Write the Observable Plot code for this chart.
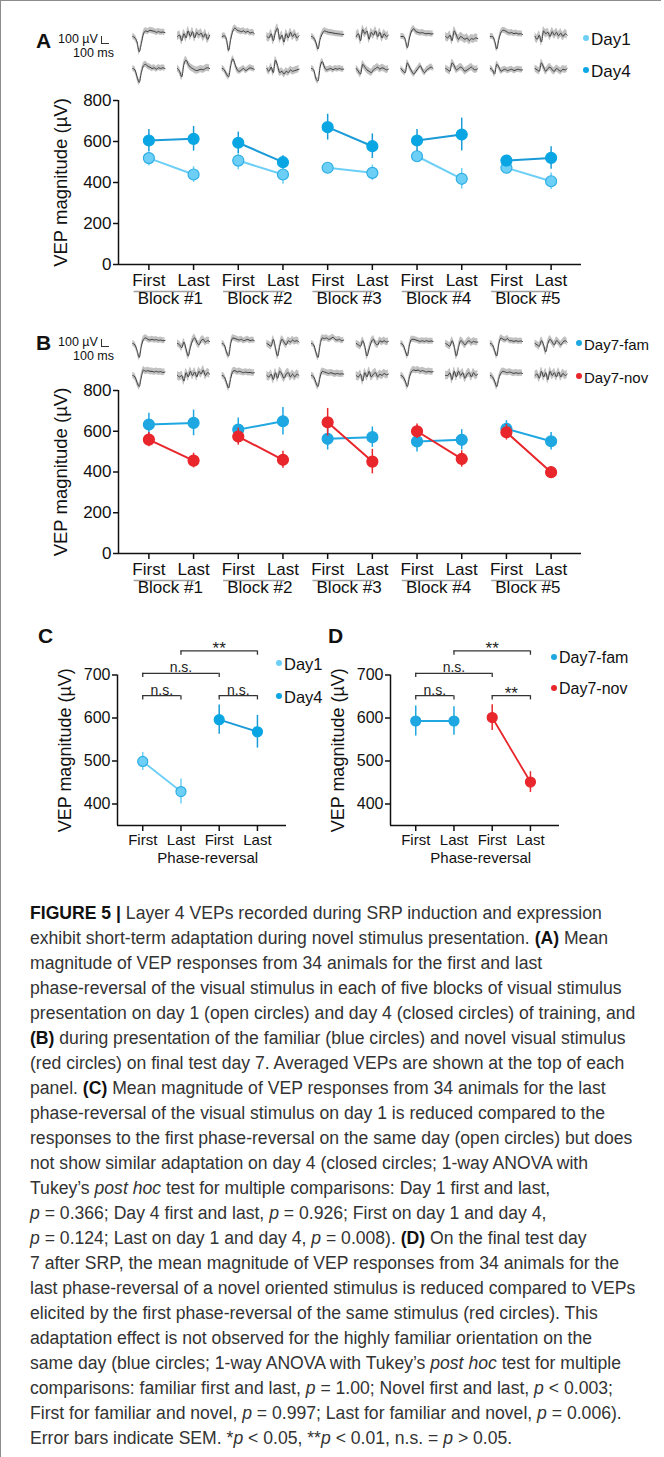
<!DOCTYPE html>
<html><head><meta charset="utf-8">
<script src="https://cdn.jsdelivr.net/npm/d3@7"></script>
<script src="https://cdn.jsdelivr.net/npm/@observablehq/plot@0.6"></script>
<style>
body{margin:0;background:#fff;}
#fig{position:relative;width:664px;height:1457px;font-family:"Liberation Sans",Arial,sans-serif;color:#111;overflow:hidden;background:#fff}
.abs{position:absolute;white-space:nowrap;line-height:1}
.frame{position:absolute;left:13px;top:7px;width:660px;height:1460px;border-top:1.5px solid #8c8c8c;border-left:1.5px solid #8c8c8c}
.cap{position:absolute;left:30px;white-space:nowrap;font-size:17.6px;line-height:25px;color:#333}
.cap b{color:#111}
.dot{position:absolute;border-radius:50%;width:7px;height:7px}
.lbar{position:absolute;width:7px;height:7px;border-left:1.3px solid #333;border-bottom:1.3px solid #333}
svg{position:absolute}
</style></head><body><div id="fig"></div>
<script>
// ---------- DATA ----------
const phases = ["First", "Last"];
const blocks = ["Block #1", "Block #2", "Block #3", "Block #4", "Block #5"];
const yTicksAB = [0, 200, 400, 600, 800];
const yTicksCD = [400, 500, 600, 700];
const cdLabels = ["First", "Last", "First", "Last"];

// Panel A (order: B1 First, B1 Last, B2 First, ...)
const day1Mean = [519, 439, 507, 439, 472, 447, 528, 418, 472, 406];
const day1Sem  = [38, 38, 45, 48, 20, 38, 30, 50, 22, 40];
const day4Mean = [605, 613, 594, 499, 670, 577, 605, 634, 507, 520];
const day4Sem  = [53, 60, 52, 32, 63, 60, 53, 80, 25, 55];
// Panel B
const famMean = [633, 641, 608, 649, 563, 571, 550, 558, 612, 551];
const famSem  = [55, 63, 57, 68, 55, 50, 52, 50, 40, 43];
const novMean = [559, 456, 574, 460, 644, 451, 600, 464, 595, 399];
const novSem  = [35, 36, 42, 42, 68, 60, 36, 40, 38, 25];
// Panel C
const cDay1Mean = [499, 429];
const cDay1Sem  = [21, 29];
const cDay4Mean = [596, 568];
const cDay4Sem  = [34, 38];
// Panel D
const dFamMean = [593, 593];
const dFamSem  = [35, 33];
const dNovMean = [601, 451];
const dNovSem  = [30, 24];
// significance brackets (between x positions a and b, stacked levels)
const cBrackets = [
  {a: 0, b: 1, level: 0, text: "n.s."},
  {a: 2, b: 3, level: 0, text: "n.s."},
  {a: 0, b: 2, level: 1, text: "n.s."},
  {a: 1, b: 3, level: 2, text: "**"}
];
const dBrackets = [
  {a: 0, b: 1, level: 0, text: "n.s."},
  {a: 2, b: 3, level: 0, text: "**"},
  {a: 0, b: 2, level: 1, text: "n.s."},
  {a: 1, b: 3, level: 2, text: "**"}
];

// Averaged VEP traces (µV), 16 samples each, one per phase-reversal column
const waveDay1 = [
  [0,-10,-40,-110,-50,20,40,35,45,40,38,30,35,30,32,28],
  [0,10,-30,20,-10,40,0,35,-10,30,10,25,-5,20,-20,10],
  [0,5,-20,-100,-20,40,60,45,40,35,40,30,38,25,30,20],
  [0,-10,20,-30,30,60,-20,10,-40,20,-10,30,0,20,-10,5],
  [0,-10,-40,-90,-20,20,40,35,30,28,25,22,20,18,15,15],
  [0,20,-30,50,20,40,-20,30,10,40,0,30,-10,20,0,10],
  [0,0,-20,-80,-10,40,55,35,30,25,28,22,20,22,18,20],
  [0,-10,10,-30,40,10,-20,0,-10,-20,-10,-30,-15,-20,-10,-15],
  [0,0,-30,-90,-20,30,45,40,30,25,28,20,25,18,20,15],
  [0,-20,10,-40,40,20,30,0,35,10,30,5,25,0,20,10]
];
const waveDay4 = [
  [0,-10,-60,-100,-30,20,30,15,10,0,5,-5,5,0,5,0],
  [0,-20,-60,30,60,30,10,0,-10,-15,-10,-5,-10,0,5,0],
  [0,-10,-40,-60,20,70,30,-10,-20,-10,0,-15,-5,5,0,-5],
  [0,-20,10,-30,60,20,-30,-20,-40,-20,-30,-10,-20,-15,-10,-5],
  [0,-10,-70,-90,10,50,10,-10,-5,0,-10,0,-5,0,-5,-5],
  [0,-20,-40,30,10,-10,-20,-30,-10,0,10,-5,5,0,-10,-5],
  [0,-20,-30,40,10,-20,-40,-20,0,20,-10,-30,-10,0,10,0],
  [0,-10,-20,40,20,-10,0,10,0,-20,-10,0,10,-5,-10,0],
  [0,-10,-40,30,10,-20,-10,-5,-15,-10,-5,-15,-10,-5,-10,-10],
  [0,-10,-20,40,10,-20,0,10,-10,-20,0,-10,-20,-5,-10,0]
];
const waveFam = [
  [0,-10,-50,-100,-20,30,40,30,25,30,25,28,22,25,20,22],
  [0,-10,-30,10,-40,-90,-30,20,40,10,-10,20,30,10,20,15],
  [0,-10,-60,-90,0,40,35,30,25,30,20,25,30,20,25,20],
  [0,-10,-20,30,-30,-90,-20,30,10,-10,20,10,25,15,20,10],
  [0,-10,-60,-100,-10,40,35,40,30,35,45,30,25,30,20,25],
  [0,-10,-20,20,-20,-90,-40,10,30,0,-10,20,10,20,10,15],
  [0,-10,-50,-90,-10,30,30,25,20,15,20,15,20,15,18,15],
  [0,-10,-20,20,-20,-90,-30,20,10,-10,10,20,5,15,10,10],
  [0,-10,-50,-90,0,40,30,25,35,20,20,15,20,15,18,15],
  [0,-10,-20,20,-10,-60,0,30,10,-10,20,10,-10,10,20,10]
];
const waveNov = [
  [0,-10,-50,-80,-10,40,30,35,30,30,25,30,25,28,22,25],
  [0,-10,0,-40,20,-10,30,0,25,-10,30,10,40,0,20,10],
  [0,-10,-50,-90,-20,30,35,25,30,25,20,25,20,22,18,20],
  [0,-10,10,-30,20,-20,30,10,-20,10,20,-10,10,-10,10,0],
  [0,-10,-50,-80,-10,30,25,20,15,20,15,10,15,10,12,10],
  [0,-10,10,-40,20,-10,30,-10,10,20,-10,10,0,15,5,10],
  [0,-10,-40,-80,-10,30,40,35,40,30,35,30,25,30,25,28],
  [0,0,20,-30,30,-10,30,0,20,-20,10,20,-10,20,0,10],
  [0,-10,-40,-80,-20,20,30,25,20,25,20,15,20,15,18,15],
  [0,10,-20,30,-10,20,-30,30,0,20,-10,25,-10,15,0,10]
];
const waveSemDay1 = [22, 30, 22, 30, 22, 30, 22, 30, 22, 30];
const waveSemDay4 = [22, 26, 22, 26, 22, 26, 22, 26, 22, 26];
const waveSemFam  = [22, 26, 22, 26, 22, 26, 22, 26, 22, 26];
const waveSemNov  = [24, 30, 24, 30, 24, 30, 24, 30, 24, 30];

const captionLines = [
 '<b>FIGURE 5</b> <b>|</b> Layer 4 VEPs recorded during SRP induction and expression',
 'exhibit short-term adaptation during novel stimulus presentation. <b>(A)</b> Mean',
 'magnitude of VEP responses from 34 animals for the first and last',
 'phase-reversal of the visual stimulus in each of five blocks of visual stimulus',
 'presentation on day 1 (open circles) and day 4 (closed circles) of training, and',
 '<b>(B)</b> during presentation of the familiar (blue circles) and novel visual stimulus',
 '(red circles) on final test day 7. Averaged VEPs are shown at the top of each',
 'panel. <b>(C)</b> Mean magnitude of VEP responses from 34 animals for the last',
 'phase-reversal of the visual stimulus on day 1 is reduced compared to the',
 'responses to the first phase-reversal on the same day (open circles) but does',
 'not show similar adaptation on day 4 (closed circles; 1-way ANOVA with',
 'Tukey\u2019s <i>post hoc</i> test for multiple comparisons: Day 1 first and last,',
 '<i>p</i> = 0.366; Day 4 first and last, <i>p</i> = 0.926; First on day 1 and day 4,',
 '<i>p</i> = 0.124; Last on day 1 and day 4, <i>p</i> = 0.008). <b>(D)</b> On the final test day',
 '7 after SRP, the mean magnitude of VEP responses from 34 animals for the',
 'last phase-reversal of a novel oriented stimulus is reduced compared to VEPs',
 'elicited by the first phase-reversal of the same stimulus (red circles). This',
 'adaptation effect is not observed for the highly familiar orientation on the',
 'same day (blue circles; 1-way ANOVA with Tukey\u2019s <i>post hoc</i> test for multiple',
 'comparisons: familiar first and last, <i>p</i> = 1.00; Novel first and last, <i>p</i> &lt; 0.003;',
 'First for familiar and novel, <i>p</i> = 0.997; Last for familiar and novel, <i>p</i> = 0.006).',
 'Error bars indicate SEM. *<i>p</i> &lt; 0.05, **<i>p</i> &lt; 0.01, n.s. = <i>p</i> &gt; 0.05.'
];

// ---------- STYLE ----------
const C_DAY1 = "#6dcff6", C_DAY1_EDGE = "#2eaee4", C_DAY4 = "#0aa6e3";
const C_FAM = "#1ea7e1", C_NOV = "#e8262b";
const FONT = "Liberation Sans, Arial, sans-serif";
const fig = document.getElementById("fig");

function place(el, left, top) { el.style.left = left + "px"; el.style.top = top + "px"; fig.appendChild(el); return el; }
function div(cls, html, style) { const d = document.createElement("div"); d.className = cls; if (html != null) d.innerHTML = html; Object.assign(d.style, style || {}); return d; }
function textAt(html, x, yc, size, extra) {
  const d = div("abs", html, Object.assign({fontSize: size + "px"}, extra || {}));
  d.style.transform = "translateY(-50%)";
  return place(d, x, yc);
}
function legendItem(color, label, x, yc, size) {
  place(div("dot", null, {background: color, width: "6px", height: "6px", transform: "translateY(-50%)"}), x, yc);
  textAt(label, x + 8, yc + 1, size);
}

place(div("frame"), 0, 0);

// ---------- MAIN BLOCK PANELS (A, B) ----------
const xIdx = d3.range(10);
const xDomAB = [-0.68, 9.68];

function blockPanel(top, series) {
  const marks = [
    Plot.axisY({ticks: yTicksAB, tickSize: 5, tickPadding: 2, strokeWidth: 1.5, label: null}),
    Plot.axisX({ticks: xIdx, tickFormat: i => phases[i % 2], tickSize: 6, tickPadding: 3, strokeWidth: 1.5, label: null}),
    Plot.ruleX([xDomAB[0]], {y1: yTicksAB[0], y2: yTicksAB[yTicksAB.length - 1], strokeWidth: 1.5}),
    Plot.ruleY([0], {strokeWidth: 1.5}),
    Plot.ruleY(blocks, {y: () => 0, x1: (d, j) => 2 * j - 0.33, x2: (d, j) => 2 * j + 1.05, dy: 27, stroke: "#a0a0a0", strokeWidth: 1.5}),
    Plot.text(blocks, {x: (d, j) => 2 * j + 0.48, frameAnchor: "bottom", dy: 39, text: d => d}),
    Plot.text(["VEP magnitude (\u00b5V)"], {frameAnchor: "left", textAnchor: "middle", rotate: -90, dx: -57, text: d => d, fontSize: 18.5})
  ];
  for (const s of series) {
    const data = xIdx.map(i => ({i, b: Math.floor(i / 2), m: s.mean[i], e: s.sem[i]}));
    marks.push(
      Plot.ruleX(data, {x: "i", y1: d => d.m - d.e, y2: d => d.m + d.e, stroke: s.line, strokeWidth: 1.5}),
      Plot.line(data, {x: "i", y: "m", z: "b", stroke: s.line, strokeWidth: 2}),
      Plot.dot(data, {x: "i", y: "m", r: 5.5, fill: s.fill, stroke: s.edge, strokeWidth: 1.2})
    );
  }
  const svg = Plot.plot({
    width: 664, height: 230, marginLeft: 118, marginRight: 83, marginTop: 15, marginBottom: 51 + (top === 85 ? 0 : 1),
    x: {domain: xDomAB}, y: {domain: [0, 800]},
    style: {fontFamily: FONT, fontSize: "17px", color: "#111", background: "transparent", overflow: "visible"},
    marks
  });
  svg.style.left = "0px"; svg.style.top = top + "px";
  fig.appendChild(svg);
}

function waveStrip(top, rows, sems) {
  const data = [];
  rows.forEach((row, r) => row.forEach((w, c) => w.forEach((v, k) => {
    data.push({id: r * 10 + c, row: r, x: c + (k / (w.length - 1) - 0.5) * 0.72, v, sem: sems[r][c]});
  })));
  const svg = Plot.plot({
    width: 664, height: 64, marginLeft: 118, marginRight: 83, marginTop: 0, marginBottom: 0,
    x: {domain: xDomAB, axis: null}, y: {domain: [-115, 115], axis: null},
    fy: {domain: [0, 1], axis: null, padding: 0},
    style: {background: "transparent", overflow: "visible"},
    marks: [
      Plot.areaY(data, {x: "x", y1: d => d.v - d.sem, y2: d => d.v + d.sem, z: "id", fy: "row", fill: "#c2c2c2", curve: "monotone-x"}),
      Plot.line(data, {x: "x", y: "v", z: "id", fy: "row", stroke: "#3c3c3c", strokeWidth: 1, curve: "monotone-x"})
    ]
  });
  svg.style.left = "0px"; svg.style.top = top + "px";
  fig.appendChild(svg);
}

// Panel A
textAt("<b>A</b>", 36, 40, 21);
textAt("100 \u00b5V", 58, 39, 12.5);
place(div("lbar"), 101, 36);
textAt("100 ms", 73, 53, 12.5);
waveStrip(20, [waveDay1, waveDay4], [waveSemDay1, waveSemDay4]);
legendItem(C_DAY1, "Day1", 583, 38, 17);
legendItem(C_DAY4, "Day4", 583, 70, 17);
blockPanel(85, [
  {mean: day1Mean, sem: day1Sem, fill: C_DAY1, edge: C_DAY1_EDGE, line: C_DAY1},
  {mean: day4Mean, sem: day4Sem, fill: C_DAY4, edge: C_DAY4, line: "#1a9bd7"}
]);

// Panel B
textAt("<b>B</b>", 36, 342, 21);
textAt("100 \u00b5V", 58, 342, 12.5);
place(div("lbar"), 101, 339);
textAt("100 ms", 73, 356, 12.5);
waveStrip(327, [waveFam, waveNov], [waveSemFam, waveSemNov]);
legendItem(C_FAM, "Day7-fam", 576, 343, 15);
legendItem(C_NOV, "Day7-nov", 576, 376, 15);
blockPanel(375, [
  {mean: famMean, sem: famSem, fill: C_FAM, edge: C_FAM, line: C_FAM},
  {mean: novMean, sem: novSem, fill: C_NOV, edge: C_NOV, line: C_NOV}
]);

// ---------- PANELS C, D ----------
const xDomCD = [-0.66, 3.76];
function phasePanel(left, series, brackets) {
  const marks = [
    Plot.axisY({ticks: yTicksCD, tickSize: 5, tickPadding: 2, strokeWidth: 1.5, label: null}),
    Plot.axisX({ticks: [0, 1, 2, 3], tickFormat: i => cdLabels[i], tickSize: 6, tickPadding: 3, strokeWidth: 1.5, fontSize: 15, label: null}),
    Plot.ruleX([xDomCD[0]], {y1: 350, y2: yTicksCD[yTicksCD.length - 1], strokeWidth: 1.5}),
    Plot.ruleY([350], {strokeWidth: 1.5}),
    Plot.text(["Phase-reversal"], {x: () => 1.7, frameAnchor: "bottom", dy: 37, text: d => d, fontSize: 15}),
    Plot.text(["VEP magnitude (\u00b5V)"], {x: () => xDomCD[0], y: () => (350 + yTicksCD[yTicksCD.length - 1]) / 2, textAnchor: "middle", rotate: -90, dx: -52, text: d => d, fontSize: 18})
  ];
  const by = b => 652 + 52 * b.level;
  marks.push(
    Plot.ruleY(brackets, {y: by, x1: "a", x2: "b", stroke: "#333", strokeWidth: 1.3}),
    Plot.ruleX(brackets, {x: "a", y1: by, y2: b => by(b) - 10, stroke: "#333", strokeWidth: 1.3}),
    Plot.ruleX(brackets, {x: "b", y1: by, y2: b => by(b) - 10, stroke: "#333", strokeWidth: 1.3}),
    Plot.text(brackets.filter(b => b.text !== "**"), {x: b => (b.a + b.b) / 2, y: by, text: "text", lineAnchor: "bottom", dy: -1, fontSize: 14, fill: "#222"}),
    Plot.text(brackets.filter(b => b.text === "**"), {x: b => (b.a + b.b) / 2, y: by, text: "text", lineAnchor: "bottom", dy: 3, fontSize: 17, fill: "#222", letterSpacing: "2px"})
  );
  series.forEach((s, si) => {
    const data = s.mean.map((m, j) => ({i: 2 * si + j, m, e: s.sem[j]}));
    marks.push(
      Plot.ruleX(data, {x: "i", y1: d => d.m - d.e, y2: d => d.m + d.e, stroke: s.line, strokeWidth: 1.5}),
      Plot.line(data, {x: "i", y: "m", stroke: s.line, strokeWidth: 1.8}),
      Plot.dot(data, {x: "i", y: "m", r: 5, fill: s.fill, stroke: s.edge, strokeWidth: 1.2})
    );
  });
  const svg = Plot.plot({
    width: 300, height: 255, marginLeft: 117, marginRight: 14, marginTop: 11.5, marginBottom: 50,
    x: {domain: xDomCD}, y: {domain: [350, 800]},
    style: {fontFamily: FONT, fontSize: "16px", color: "#111", background: "transparent", overflow: "visible"},
    marks
  });
  svg.style.left = left + "px"; svg.style.top = "620px";
  fig.appendChild(svg);
}
textAt("<b>C</b>", 38, 635, 21);
phasePanel(0, [
  {mean: cDay1Mean, sem: cDay1Sem, fill: C_DAY1, edge: C_DAY1_EDGE, line: C_DAY1},
  {mean: cDay4Mean, sem: cDay4Sem, fill: C_DAY4, edge: C_DAY4, line: "#1a9bd7"}
], cBrackets);
legendItem(C_DAY1, "Day1", 276, 663, 16.5);
legendItem(C_DAY4, "Day4", 276, 696, 16.5);

textAt("<b>D</b>", 328, 635, 21);
phasePanel(273, [
  {mean: dFamMean, sem: dFamSem, fill: C_FAM, edge: C_FAM, line: C_FAM},
  {mean: dNovMean, sem: dNovSem, fill: C_NOV, edge: C_NOV, line: C_NOV}
], dBrackets);
legendItem(C_FAM, "Day7-fam", 551, 657, 16);
legendItem(C_NOV, "Day7-nov", 551, 688, 16);

// ---------- CAPTION ----------
captionLines.forEach((ln, k) => {
  const d = div("cap", ln);
  place(d, 30, 900.5 + 25 * k);
});
</script></body></html>
